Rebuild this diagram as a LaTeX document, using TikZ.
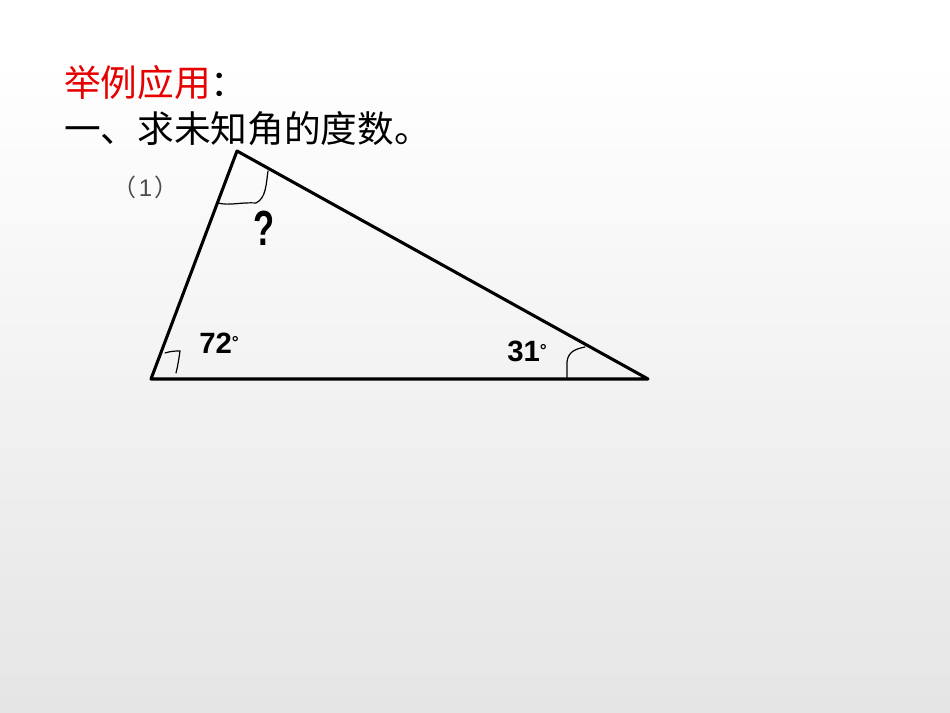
\documentclass[tikz,border=0pt]{standalone}
\usepackage{fontspec}
\newfontfamily\cjk{Noto Sans CJK SC}
\newfontfamily\arialf{Liberation Sans}
\definecolor{bgbot}{RGB}{229,229,229}
\definecolor{titlered}{RGB}{230,0,0}
\begin{document}
\begin{tikzpicture}[x=0.75pt,y=-0.75pt,
  edge/.style={line width=2.3pt,line cap=round,line join=round},
  anglemark/.style={line width=0.9pt,line cap=round},
  lbl/.style={inner sep=0pt,font=\arialf\bfseries\fontsize{22}{24}\selectfont}]
\useasboundingbox (0,0) rectangle (950,713);
\fill[white] (0,0) rectangle (950,60);
\shade[top color=white,bottom color=bgbot] (0,60) rectangle (950,713);
% titles
\node[anchor=base west,inner sep=0pt,font=\cjk\fontsize{27.5}{30}\selectfont] (t1) at (64,97) {\textcolor{titlered}{举例应用}：};
\node[anchor=base west,inner sep=0pt,font=\cjk\fontsize{27.5}{30}\selectfont] (t2) at (64,143) {一、求未知角的度数。};
\node[anchor=base west,inner sep=0pt,text=black!70,font=\cjk\fontsize{18}{20}\selectfont] (n1) at (112,197) {（\hspace{2pt}{\arialf 1}\hspace{2pt}）};
% triangle
\coordinate (A) at (237,151);
\coordinate (B) at (151,379);
\coordinate (C) at (648,379);
\draw[edge] (A) -- (B) -- (C) -- cycle;
% angle marks
\coordinate (a1) at (218,203);
\coordinate (a2) at (268,171);
\draw[anglemark] (a1) .. controls (230,206) and (240,202) .. (256,203) .. controls (266,198) and (266,185) .. (a2);
\coordinate (b1) at (165,353);
\coordinate (b2) at (176,373);
\draw[anglemark] (b1) .. controls (171,351) and (176,351) .. (180,351) .. controls (179,358) and (178,365) .. (b2);
\coordinate (c1) at (567,379);
\coordinate (c2) at (585,347);
\draw[anglemark] (c1) -- (567,362) .. controls (568,352) and (575,349) .. (c2);
% labels
\node[lbl,anchor=base west] (l72) at (199,353) {72\raisebox{3.5pt}{\fontsize{13}{14}\selectfont°}};
\node[lbl,anchor=base west] (l31) at (507,361) {31\raisebox{3.5pt}{\fontsize{13}{14}\selectfont°}};
\node[inner sep=0pt,anchor=base,font=\arialf\bfseries\fontsize{37}{40}\selectfont] (q) at (264,246) {\scalebox{0.7}[1]{?}};
\end{tikzpicture}
\end{document}
